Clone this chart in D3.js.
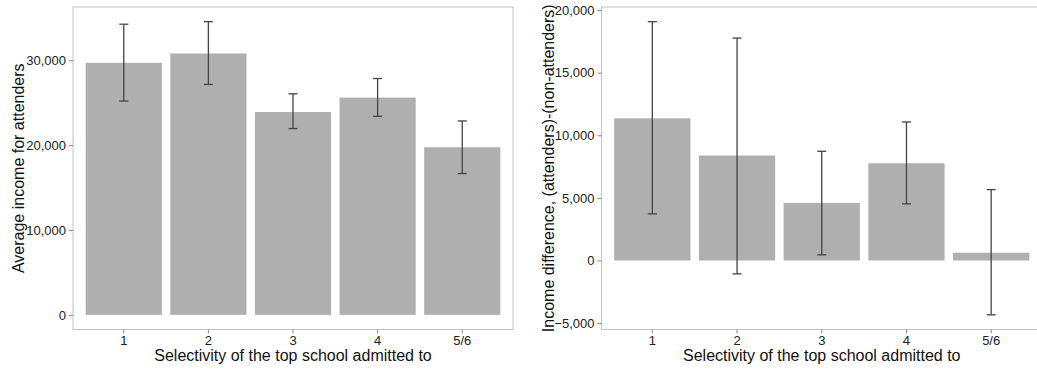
<!DOCTYPE html>
<html>
<head>
<meta charset="utf-8">
<script src="https://cdn.jsdelivr.net/npm/d3@7"></script>
<style>
  body { margin: 0; background: #fff; }
  svg { display: block; font-family: "Liberation Sans", Arial, sans-serif; }
</style>
</head>
<body>
<svg id="chart" width="1037" height="371"></svg>
<script>
const categories = ["1", "2", "3", "4", "5/6"];

// left panel: average income for attenders
const attMean = [29700, 30800, 23900, 25600, 19750];
const attLow = [25200, 27150, 21950, 23400, 16650];
const attHigh = [34250, 34550, 26050, 27850, 22850];
const attTicks = [0, 10000, 20000, 30000];

// right panel: attenders minus non-attenders
const diffMean = [11350, 8380, 4600, 7760, 620];
const diffLow = [3720, -1070, 450, 4520, -4340];
const diffHigh = [19070, 17760, 8720, 11060, 5660];
const diffTicks = [-5000, 0, 5000, 10000, 15000, 20000];

const xTitle = "Selectivity of the top school admitted to";

const svg = d3.select("#chart");
const fmt = d3.format(",");

function drawPanel(left, right, top, bottom, means, lows, highs, ticks, yTitle, titleX) {
    const rows = categories.map((c, i) => ({cat: c, mean: means[i], lo: lows[i], hi: highs[i]}));

    let lo = Math.min(0, d3.min(lows));
    let hi = d3.max(highs);
    const pad = (hi - lo) * 0.05;

    const x = d3.scaleBand()
        .domain(categories)
        .range([left, right])
        .paddingInner(0.1)
        .paddingOuter(0.15);

    const y = d3.scaleLinear()
        .domain([lo - pad, hi + pad])
        .range([bottom, top]);

    const g = svg.append("g");

    // bars
    g.append("g")
        .attr("fill", "#afafaf")
        .selectAll("rect")
            .data(rows)
        .enter().append("rect")
            .attr("x", d => x(d.cat))
            .attr("y", d => Math.min(y(d.mean), y(0)))
            .attr("width", x.bandwidth())
            .attr("height", d => Math.abs(y(0) - y(d.mean)));

    // error bars
    const eb = g.append("g")
        .attr("stroke", "#444")
        .attr("stroke-width", 1.3)
        .selectAll("g")
            .data(rows)
        .enter().append("g");
    const cx = d => x(d.cat) + x.bandwidth() / 2;
    eb.append("line")
        .attr("x1", cx).attr("x2", cx)
        .attr("y1", d => y(d.lo)).attr("y2", d => y(d.hi));
    eb.append("line")
        .attr("x1", d => cx(d) - 4.5).attr("x2", d => cx(d) + 4.5)
        .attr("y1", d => y(d.hi)).attr("y2", d => y(d.hi));
    eb.append("line")
        .attr("x1", d => cx(d) - 4.5).attr("x2", d => cx(d) + 4.5)
        .attr("y1", d => y(d.lo)).attr("y2", d => y(d.lo));

    // panel border
    g.append("rect")
        .attr("x", left).attr("y", top)
        .attr("width", right - left).attr("height", bottom - top)
        .attr("fill", "none")
        .attr("stroke", "#c4c4c4")
        .attr("stroke-width", 1);

    // y axis
    g.append("g")
        .attr("transform", `translate(${left},0)`)
        .call(d3.axisLeft(y).tickValues(ticks).tickFormat(fmt).tickSize(4).tickPadding(3))
        .call(a => a.select(".domain").remove())
        .call(a => a.selectAll(".tick line").attr("stroke", "#888"))
        .call(a => a.selectAll(".tick text")
            .attr("fill", "#222")
            .style("font-size", "13px")
            .style("font-family", "Liberation Sans, Arial, sans-serif"));

    // x axis
    g.append("g")
        .attr("transform", `translate(0,${bottom})`)
        .call(d3.axisBottom(x).tickSize(4).tickPadding(2))
        .call(a => a.select(".domain").remove())
        .call(a => a.selectAll(".tick line").attr("stroke", "#888"))
        .call(a => a.selectAll(".tick text")
            .attr("fill", "#222")
            .style("font-size", "13px")
            .style("font-family", "Liberation Sans, Arial, sans-serif"));

    // titles
    g.append("text")
        .attr("x", (left + right) / 2)
        .attr("y", 361)
        .attr("text-anchor", "middle")
        .style("font-size", "16px")
        .attr("fill", "#111")
        .text(xTitle);

    g.append("text")
        .attr("transform", `translate(${titleX},${(top + bottom) / 2}) rotate(-90)`)
        .attr("text-anchor", "middle")
        .style("font-size", "16px")
        .attr("fill", "#111")
        .text(yTitle);
}

drawPanel(73, 513, 7, 329.5, attMean, attLow, attHigh, attTicks,
    "Average income for attenders", 24);
drawPanel(601.5, 1042, 7, 329.5, diffMean, diffLow, diffHigh, diffTicks,
    "Income difference, (attenders)-(non-attenders)", 554);
</script>
</body>
</html>
